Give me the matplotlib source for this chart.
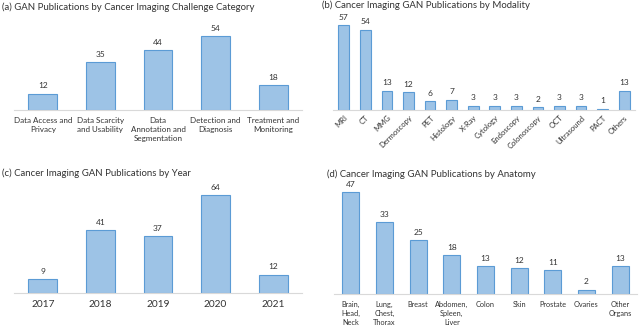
import matplotlib.pyplot as plt


# -----------------------------
# Data
# -----------------------------

challenge_labels = [
    "Data Access and\nPrivacy",
    "Data Scarcity\nand Usability",
    "Data\nAnnotation and\nSegmentation",
    "Detection and\nDiagnosis",
    "Treatment and\nMonitoring",
]
challenge_counts = [12, 35, 44, 54, 18]

modality_labels = [
    "MRI", "CT", "MMG", "Dermoscopy", "PET", "Histology", "X-Ray",
    "Cytology", "Endoscopy", "Colonoscopy", "OCT", "Ultrasound", "PACT", "Others",
]
modality_counts = [57, 54, 13, 12, 6, 7, 3, 3, 3, 2, 3, 3, 1, 13]

year_labels = ["2017", "2018", "2019", "2020", "2021"]
year_counts = [9, 41, 37, 64, 12]

anatomy_labels = [
    "Brain,\nHead,\nNeck",
    "Lung,\nChest,\nThorax",
    "Breast",
    "Abdomen,\nSpleen,\nLiver",
    "Colon",
    "Skin",
    "Prostate",
    "Ovaries",
    "Other\nOrgans",
]
anatomy_counts = [47, 33, 25, 18, 13, 12, 11, 2, 13]


# -----------------------------
# Style
# -----------------------------

W, H = 640, 327
DPI = 100
FONT = "Lato"
TEXT_COLOR = "#333333"
BAR_COLOR = "#9DC3E6"
EDGE_COLOR = "#5B9BD5"
AXIS_COLOR = "#D9D9D9"

plt.rcParams["font.family"] = FONT


def make_axes(fig, left_px, right_px, base_px, px_per_unit, top_px):
    left = left_px / W
    width = (right_px - left_px) / W
    bottom = 1 - base_px / H
    height = (base_px - top_px) / H
    ax = fig.add_axes([left, bottom, width, height])
    ax.set_ylim(0, (base_px - top_px) / px_per_unit)
    return ax


def draw_bars(ax, labels, counts, label_size, value_size, rotate=False, tick_pad=4):
    x = list(range(len(counts)))
    ax.bar(x, counts, width=0.5, color=BAR_COLOR, edgecolor=EDGE_COLOR, linewidth=0.8)
    ax.set_xlim(-0.5, len(counts) - 0.5)

    for xi, value in zip(x, counts):
        ax.annotate(
            str(value),
            (xi, value),
            textcoords="offset points",
            xytext=(0, 3),
            ha="center",
            va="bottom",
            fontsize=value_size,
            color=TEXT_COLOR,
        )

    ax.set_xticks(x)
    if rotate:
        ax.set_xticklabels(labels, rotation=45, ha="right", rotation_mode="anchor",
                           fontsize=label_size, color=TEXT_COLOR)
    else:
        ax.set_xticklabels(labels, fontsize=label_size, color=TEXT_COLOR,
                           linespacing=1.3)
    ax.tick_params(axis="x", length=0, pad=tick_pad)
    ax.set_yticks([])

    for side in ["top", "left", "right"]:
        ax.spines[side].set_visible(False)
    ax.spines["bottom"].set_color(AXIS_COLOR)
    ax.spines["bottom"].set_linewidth(0.8)


# -----------------------------
# Chart
# -----------------------------

fig = plt.figure(figsize=(W / DPI, H / DPI), dpi=DPI)

ax_a = make_axes(fig, 14, 302, 110, 1.37, 28)
draw_bars(ax_a, challenge_labels, challenge_counts, 5.8, 6.0, tick_pad=5)

ax_b = make_axes(fig, 333, 635, 110, 1.49, 18)
draw_bars(ax_b, modality_labels, modality_counts, 5.5, 6.0, rotate=True, tick_pad=3)

ax_c = make_axes(fig, 14, 302, 293, 1.53, 190)
draw_bars(ax_c, year_labels, year_counts, 7.3, 6.0, tick_pad=5)

ax_d = make_axes(fig, 334, 637, 294, 2.17, 185)
draw_bars(ax_d, anatomy_labels, anatomy_counts, 5.3, 6.0, tick_pad=5)

titles = [
    (2, 7, "(a) GAN Publications by Cancer Imaging Challenge Category"),
    (322, 5, "(b) Cancer Imaging GAN Publications by Modality"),
    (2, 173, "(c) Cancer Imaging GAN Publications by Year"),
    (327, 174, "(d) Cancer Imaging GAN Publications by Anatomy"),
]
for x_px, y_px, text in titles:
    fig.text(x_px / W, 1 - y_px / H, text, ha="left", va="center",
             fontsize=6.9, color=TEXT_COLOR)

fig.savefig("out.png", dpi=DPI)
